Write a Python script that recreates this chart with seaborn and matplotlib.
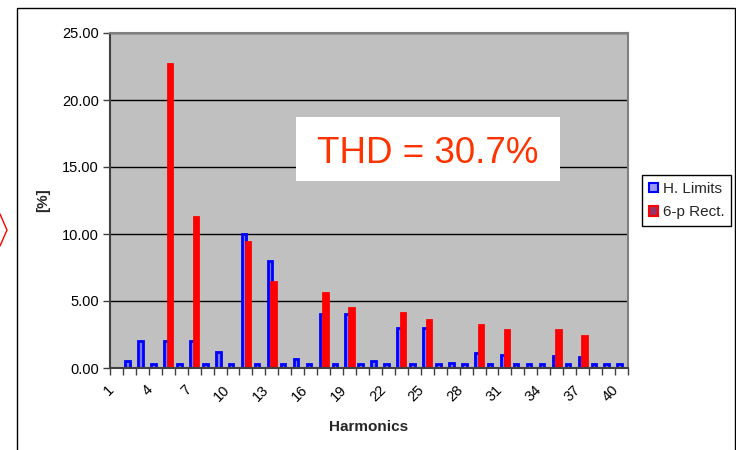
import numpy as np
import pandas as pd
import matplotlib
matplotlib.use("Agg")
import matplotlib.pyplot as plt
import matplotlib.transforms as mtransforms
import seaborn as sns
from matplotlib.patches import Rectangle, Patch
from matplotlib.lines import Line2D

# ---------------- data ----------------
harmonics = list(range(1, 41))
h_limits = [0.0, 0.5, 2.0, 0.3, 2.0, 0.3, 2.0, 0.3, 1.2, 0.3,
            10.0, 0.3, 8.0, 0.3, 0.7, 0.3, 4.0, 0.3, 4.0, 0.3,
            0.5, 0.3, 3.0, 0.3, 3.0, 0.3, 0.4, 0.3, 1.1, 0.3,
            1.0, 0.3, 0.3, 0.3, 0.9, 0.3, 0.8, 0.3, 0.3, 0.3]
rect_6p = [0.0, 0.0, 0.0, 0.0, 22.7, 0.0, 11.3, 0.0, 0.0, 0.0,
           9.4, 0.0, 6.4, 0.0, 0.0, 0.0, 5.6, 0.0, 4.5, 0.0,
           0.0, 0.0, 4.1, 0.0, 3.6, 0.0, 0.0, 0.0, 3.2, 0.0,
           2.8, 0.0, 0.0, 0.0, 2.8, 0.0, 2.4, 0.0, 0.0, 0.0]
series_names = ["H. Limits", "6-p Rect."]
y_ticks = [0, 5, 10, 15, 20, 25]
x_label_step = 3
thd_label = "THD = 30.7%"
x_title = "Harmonics"
y_title = "[%]"

# ---------------- style ----------------
sns.set_theme(style="white")
plt.rcParams["font.family"] = ["Liberation Sans", "DejaVu Sans"]

df = pd.DataFrame({
    "Harmonic": harmonics * 2,
    "Value": h_limits + rect_6p,
    "Series": [series_names[0]] * len(harmonics) + [series_names[1]] * len(harmonics),
})
df = df[df["Value"] > 0]

W, H = 736, 450
fig = plt.figure(figsize=(W / 100, H / 100), dpi=100)
fig.patch.set_facecolor("white")
ax = fig.add_axes([110 / W, 1 - 368 / H, 518 / W, 335 / H])

sns.barplot(data=df, x="Harmonic", y="Value", hue="Series",
            order=harmonics, hue_order=series_names,
            palette=["#7A7AFF", "#FF0000"], saturation=1,
            dodge=True, width=0.56, legend=False, ax=ax)

edge_cols = ["#0000FF", "#FF0000"]
for cont, ec in zip(ax.containers, edge_cols):
    for p in cont:
        c = p.get_x() + p.get_width() / 2
        p.set_width(0.35)
        p.set_x(c - 0.175)
        p.set_edgecolor(ec)
        p.set_linewidth(2.0)

ax.set_facecolor("#C0C0C0")
ax.set_xlim(-0.5, len(harmonics) - 0.5)
ax.set_ylim(y_ticks[0], y_ticks[-1])
ax.set_axisbelow(True)
ax.yaxis.grid(True, color="#000000", linewidth=1.0)
ax.xaxis.grid(False)

ax.set_yticks(y_ticks)
ax.set_yticklabels([f"{v:.2f}" for v in y_ticks], fontsize=10.5, color="black")
ax.tick_params(axis="y", direction="out", length=5, width=1, color="#404040", pad=3, left=True)

major_pos = list(range(0, len(harmonics), x_label_step))
ax.set_xticks(major_pos)
ax.set_xticklabels([str(harmonics[i]) for i in major_pos], fontsize=10.5,
                   rotation=45, ha="right", va="center", rotation_mode="anchor", color="black")
ax.set_xticks(np.arange(-0.5, len(harmonics), 1.0), minor=True)
ax.tick_params(axis="x", which="major", length=0, pad=14)
ax.tick_params(axis="x", which="minor", direction="out", length=5, width=1, color="#404040", bottom=True)
offset = mtransforms.ScaledTranslation(-5 / 100, 0, fig.dpi_scale_trans)
for lab in ax.get_xticklabels():
    lab.set_transform(lab.get_transform() + offset)

ax.set_xlabel("")
ax.set_ylabel("")
fig.text(369 / W, 1 - 427 / H, x_title, ha="center", va="center", fontsize=11, fontweight="bold")
fig.text(43 / W, 1 - 200 / H, y_title, ha="center", va="center", rotation=90, fontsize=11, fontweight="bold")

for side in ["left", "bottom"]:
    ax.spines[side].set_color("#404040")
    ax.spines[side].set_linewidth(1.5)
for side in ["top", "right"]:
    ax.spines[side].set_visible(True)
    ax.spines[side].set_color("#808080")
    ax.spines[side].set_linewidth(1.5)

# THD box
ax.add_patch(Rectangle((0.359, 0.558), 0.51, 0.191, transform=ax.transAxes,
                       facecolor="white", edgecolor="none", zorder=5))
ax.text(0.614, 0.611, thd_label, transform=ax.transAxes, ha="center", va="baseline",
        fontsize=26.5, color="#FF3300", zorder=6)

# legend
handles = [Patch(facecolor="#9999FF", edgecolor="#0000FF", linewidth=1.5),
           Patch(facecolor="#993366", edgecolor="#FF0000", linewidth=1.5)]
leg = fig.legend(handles, series_names, loc="upper left",
                 bbox_to_anchor=(642 / W, 1 - 175 / H), borderaxespad=0,
                 fontsize=11, frameon=True, fancybox=False, framealpha=1,
                 handlelength=0.6, handleheight=0.6, handletextpad=0.3,
                 borderpad=0.45, labelspacing=0.6)
leg.get_frame().set_edgecolor("black")
leg.get_frame().set_linewidth(1.0)

# outer chart border and slide decoration
fig.patches.append(Rectangle((17 / W, -0.02), (735 - 17) / W, 1.02 - 8 / H,
                             transform=fig.transFigure, facecolor="none",
                             edgecolor="black", linewidth=1.0, zorder=0))
fig.lines.append(Line2D([0 / W, 7 / W, 0 / W], [1 - 214 / H, 1 - 230 / H, 1 - 246 / H],
                        transform=fig.transFigure, color="#FF0000", linewidth=1.0))

fig.savefig("out.png", dpi=100)
